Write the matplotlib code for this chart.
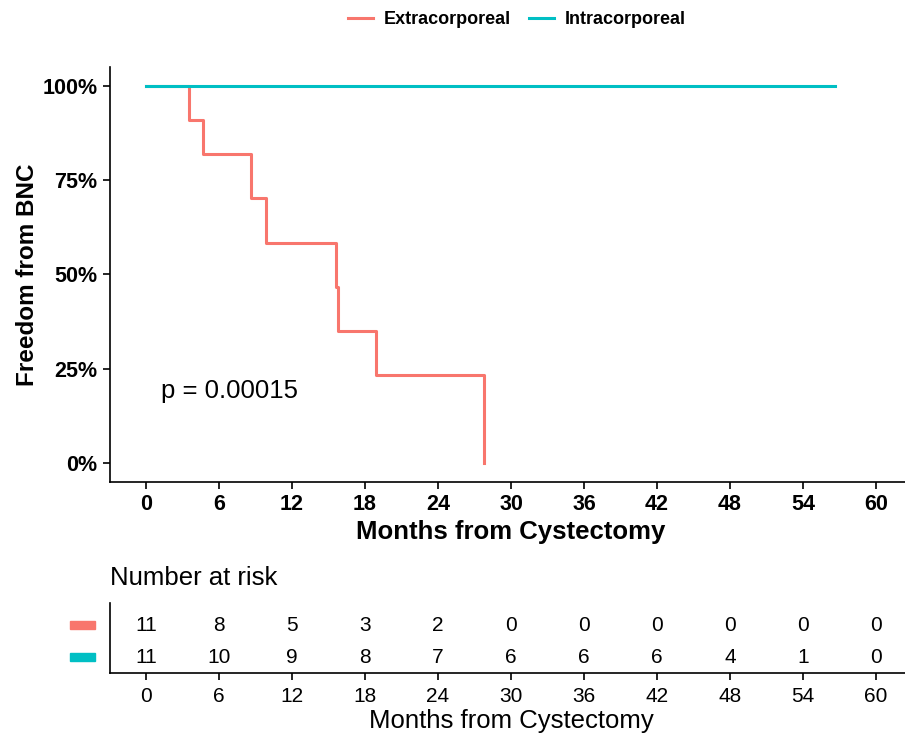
import numpy as np
import matplotlib.pyplot as plt
from matplotlib.patches import Rectangle
import matplotlib.transforms as mtransforms

plt.rcParams['font.family'] = ['Liberation Sans', 'DejaVu Sans']

RED = '#F8766D'
CYAN = '#00BFC4'

# Kaplan-Meier steps
extra_time = [0, 3.56, 4.71, 8.6, 9.9, 15.6, 15.8, 18.9, 27.8]
extra_surv = [1.0, 0.909, 0.818, 0.701, 0.584, 0.467, 0.350, 0.234, 0.0]
intra_time = [0, 56.6]
intra_surv = [1.0, 1.0]

# number at risk table
risk_times = [0, 6, 12, 18, 24, 30, 36, 42, 48, 54, 60]
risk_extra = [11, 8, 5, 3, 2, 0, 0, 0, 0, 0, 0]
risk_intra = [11, 10, 9, 8, 7, 6, 6, 6, 4, 1, 0]

groups = ['Extracorporeal', 'Intracorporeal']
pval_text = 'p = 0.00015'

W, H = 905, 735
fig = plt.figure(figsize=(W / 100, H / 100), dpi=100)

left = 109.5 / W
width = 803 / W
ax = fig.add_axes([left, 1 - 482 / H, width, (482 - 66.7) / H])
tab = fig.add_axes([left, 1 - 673 / H, width, (673 - 603) / H])

l1, = ax.step(extra_time, extra_surv, where='post', color=RED, lw=2.2)
l2, = ax.step(intra_time, intra_surv, where='post', color=CYAN, lw=2.2)

ax.set_xlim(-3, 63)
ax.set_ylim(-0.05, 1.05)
ax.set_xticks(risk_times)
ax.set_yticks([0, 0.25, 0.5, 0.75, 1.0])
ax.set_yticklabels(['0%', '25%', '50%', '75%', '100%'])
for s in ['top', 'right']:
    ax.spines[s].set_visible(False)
for s in ['left', 'bottom']:
    ax.spines[s].set_linewidth(1.2)
ax.tick_params(length=5, width=1.2, labelsize=15.5)
for t in ax.get_xticklabels() + ax.get_yticklabels():
    t.set_fontweight('bold')
ax.set_xlabel('Months from Cystectomy', fontsize=18.5, fontweight='bold', labelpad=4)
ax.set_ylabel('Freedom from BNC', fontsize=17.5, fontweight='bold', va='center')
ax.yaxis.set_label_coords(-0.1015, 0.5)
ax.text(1.2, 0.19, pval_text, fontsize=18.5, va='center', ha='left')

fig.legend([l1, l2], groups, loc='center', bbox_to_anchor=(0.571, 1 - 20 / H),
           ncol=2, frameon=False, handlelength=1.4, columnspacing=1.0,
           handletextpad=0.6, prop={'size': 13, 'weight': 'bold'})

# risk table
for x, n in zip(risk_times, risk_extra):
    tab.text(x, 2, str(n), ha='center', va='center', fontsize=15)
for x, n in zip(risk_times, risk_intra):
    tab.text(x, 1, str(n), ha='center', va='center', fontsize=15)
tab.set_xlim(-3, 63)
tab.set_ylim(0.5, 2.69)
tab.set_xticks(risk_times)
tab.set_yticks([])
for s in ['top', 'right']:
    tab.spines[s].set_visible(False)
for s in ['left', 'bottom']:
    tab.spines[s].set_linewidth(1.2)
tab.tick_params(length=5, width=1.2, labelsize=15, pad=5)
tab.set_xlabel('Months from Cystectomy', fontsize=18.5, labelpad=2)

trans = mtransforms.blended_transform_factory(tab.transAxes, tab.transData)
for yrow, c in [(2, RED), (1, CYAN)]:
    tab.add_patch(Rectangle((-0.049, yrow - 0.13), 0.031, 0.26, transform=trans,
                            color=c, clip_on=False))

fig.text(110 / W, 1 - 578 / H, 'Number at risk', fontsize=18.5, va='center', ha='left')

fig.savefig('out.png', dpi=100)
